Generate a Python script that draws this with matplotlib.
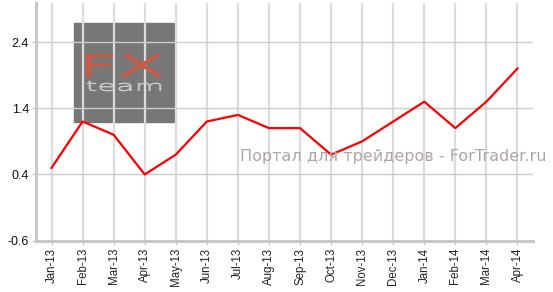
import matplotlib
matplotlib.use('Agg')
import matplotlib.pyplot as plt
from matplotlib.patches import Rectangle, PathPatch
from matplotlib.textpath import TextPath
from matplotlib.font_manager import FontProperties
from matplotlib.transforms import Affine2D

plt.rcParams['font.family'] = ['Liberation Sans', 'DejaVu Sans']

# monthly values
months = ['Jan-13', 'Feb-13', 'Mar-13', 'Apr-13', 'May-13', 'Jun-13', 'Jul-13', 'Aug-13',
          'Sep-13', 'Oct-13', 'Nov-13', 'Dec-13', 'Jan-14', 'Feb-14', 'Mar-14', 'Apr-14']
values = [0.5, 1.2, 1.0, 0.4, 0.7, 1.2, 1.3, 1.1, 1.1, 0.7, 0.9, 1.2, 1.5, 1.1, 1.5, 2.0]
yticks = [-0.6, 0.4, 1.4, 2.4]

W, H = 553, 292
fig = plt.figure(figsize=(W / 100, H / 100), dpi=100)
ax = fig.add_axes([36 / W, 1 - 240.7 / H, (533 - 36) / W, (240.7 - 3) / H])

x = list(range(len(months)))
ax.plot(x, values, color='#ff0000', lw=1.6, zorder=3)

ax.set_xlim(-0.5, len(months) - 0.5)
ax.set_ylim(-0.6, 2.99)
ax.set_xticks(x)
ax.set_xticklabels(months, rotation=90, fontsize=8.3, color='#222222')
ax.set_yticks(yticks)
ax.set_yticklabels(['%.1f' % v for v in yticks], fontsize=9, color='#111111')

ax.grid(axis='y', color='#cccccc', lw=1.0)
ax.grid(axis='x', color='#dcdcdc', lw=1.6)
ax.tick_params(axis='both', length=3, color='#c8c8c8', width=1, pad=2)
for s in ['top', 'right']:
    ax.spines[s].set_visible(False)
for s in ['left', 'bottom']:
    ax.spines[s].set_color('#c8c8c8')
    ax.spines[s].set_linewidth(2.2)

# logo box
ax.add_patch(Rectangle((0.71, 1.19), 3.23, 1.5, color='#777777', zorder=1))


def logo_text(s, color, left, right, top, bottom, prop, lw):
    # draw text stretched into a pixel box (y measured from the top)
    tp = TextPath((0, 0), s, size=10, prop=prop)
    ext = tp.get_extents()
    sx = (right - left) / ext.width
    sy = (bottom - top) / ext.height
    tr = (Affine2D().translate(-ext.x0, -ext.y0).scale(sx, sy)
          .translate(left, H - bottom).scale(1 / W, 1 / H) + fig.transFigure)
    fig.patches.append(PathPatch(tp, transform=tr, facecolor=color, edgecolor=color,
                                 lw=lw, zorder=5))


thin = FontProperties(family='DejaVu Sans', weight='light')
logo_text('FX', '#cc5a47', 87, 161, 55, 76, thin, 1.3)
logo_text('team', '#c8c8c8', 87, 161, 81, 91, thin, 0.5)

# watermark
fig.text(547 / W, 1 - 156 / H, 'Портал для трейдеров - ForTrader.ru', color='#aea6a6',
         fontsize=11.5, ha='right', va='center', family='DejaVu Sans')

fig.savefig('out.png', dpi=100)
